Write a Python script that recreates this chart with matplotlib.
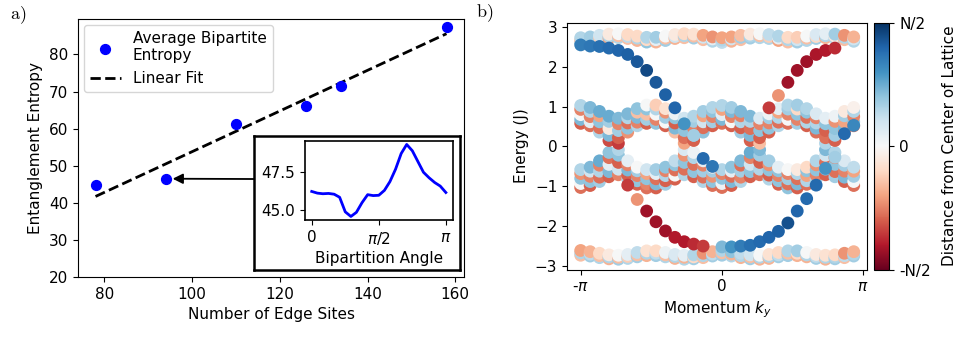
"""Edge-site entanglement entropy and ribbon band structure"""

import numpy as np
import matplotlib.pyplot as plt

# ---------------- panel a data ----------------
edge_sites = [78, 94, 110, 126, 134, 158]
avg_entropy = [44.7, 46.5, 61.3, 66.1, 71.6, 87.3]

# inset: entropy vs bipartition angle (in units of pi) for the 94-site system
angle_over_pi = [0, .042, .083, .125, .167, .208, .25, .292, .333, .375, .417, .458, .5,
                 .542, .583, .625, .667, .708, .75, .792, .833, .875, .917, .958, 1.0]
angle_entropy = [46.23, 46.12, 46.08, 46.10, 46.05, 45.85, 44.9, 44.6, 44.87, 45.5, 46.02,
                 45.96, 45.98, 46.3, 46.87, 47.68, 48.7, 49.29, 48.88, 48.17, 47.48, 47.12,
                 46.81, 46.58, 46.16]

# ---------------- panel b data ----------------
# momentum grid (units of pi)
k_over_pi = [-1.0, -.933, -.867, -.8, -.733, -.667, -.6, -.533, -.467, -.4, -.333, -.267, -.2,
             -.133, -.067, 0.0, .067, .133, .2, .267, .333, .4, .467, .533, .6, .667, .733,
             .8, .867, .933]

# bulk band layers (energy in J), one value per k
top_hi = [2.73, 2.75, 2.79, 2.82, 2.83, 2.81, 2.77, 2.74, 2.74, 2.77, 2.81, 2.83, 2.82, 2.79, 2.75,
          2.73, 2.75, 2.79, 2.82, 2.83, 2.81, 2.77, 2.74, 2.74, 2.77, 2.81, 2.83, 2.82, 2.79, 2.75]
top_mid = [2.67, 2.70, 2.74, 2.77, 2.78, 2.76, 2.72, 2.68, 2.68, 2.72, 2.76, 2.78, 2.77, 2.74, 2.70,
           2.67, 2.70, 2.74, 2.77, 2.78, 2.76, 2.72, 2.68, 2.68, 2.72, 2.76, 2.78, 2.77, 2.74, 2.70]
top_lo = [2.61, 2.64, 2.68, 2.72, 2.73, 2.71, 2.66, 2.62, 2.62, 2.66, 2.71, 2.73, 2.72, 2.68, 2.64,
          2.61, 2.64, 2.68, 2.72, 2.73, 2.71, 2.66, 2.62, 2.62, 2.66, 2.71, 2.73, 2.72, 2.68, 2.64]

mu_4 = [1.03, .98, .88, .76, .71, .82, .95, 1.04, 1.04, .95, .82, .71, .76, .88, .98,
        1.03, .98, .88, .76, .71, .82, .95, 1.04, 1.04, .95, .82, .71, .76, .88, .98]
mu_3 = [.93, .88, .77, .63, .57, .72, .86, .94, .94, .86, .72, .57, .63, .77, .88,
        .93, .88, .77, .63, .57, .72, .86, .94, .94, .86, .72, .57, .63, .77, .88]
mu_2 = [.80, .75, .62, .45, .40, .59, .73, .81, .81, .73, .59, .40, .45, .62, .75,
        .80, .75, .62, .45, .40, .59, .73, .81, .81, .73, .59, .40, .45, .62, .75]
mu_1 = [.68, .62, .47, .28, .22, .46, .61, .68, .68, .61, .46, .22, .28, .47, .62,
        .68, .62, .47, .28, .22, .46, .61, .68, .68, .61, .46, .22, .28, .47, .62]
mu_0 = [.58, .52, .36, .15, .08, .36, .52, .58, .58, .52, .36, .08, .15, .36, .52,
        .58, .52, .36, .15, .08, .36, .52, .58, .58, .52, .36, .08, .15, .36, .52]

md_4 = [-.58, -.52, -.36, -.15, -.08, -.36, -.52, -.58, -.58, -.52, -.36, -.08, -.15, -.36, -.52,
        -.58, -.52, -.36, -.15, -.08, -.36, -.52, -.58, -.58, -.52, -.36, -.08, -.15, -.36, -.52]
md_3 = [-.68, -.62, -.47, -.28, -.22, -.46, -.61, -.68, -.68, -.61, -.46, -.22, -.28, -.47, -.62,
        -.68, -.62, -.47, -.28, -.22, -.46, -.61, -.68, -.68, -.61, -.46, -.22, -.28, -.47, -.62]
md_2 = [-.80, -.75, -.62, -.45, -.40, -.59, -.73, -.81, -.81, -.73, -.59, -.40, -.45, -.62, -.75,
        -.80, -.75, -.62, -.45, -.40, -.59, -.73, -.81, -.81, -.73, -.59, -.40, -.45, -.62, -.75]
md_1 = [-.93, -.88, -.77, -.63, -.57, -.72, -.86, -.94, -.94, -.86, -.72, -.57, -.63, -.77, -.88,
        -.93, -.88, -.77, -.63, -.57, -.72, -.86, -.94, -.94, -.86, -.72, -.57, -.63, -.77, -.88]
md_0 = [-1.03, -.98, -.88, -.76, -.71, -.82, -.95, -1.04, -1.04, -.95, -.82, -.71, -.76, -.88, -.98,
        -1.03, -.98, -.88, -.76, -.71, -.82, -.95, -1.04, -1.04, -.95, -.82, -.71, -.76, -.88, -.98]

bot_hi = [-2.61, -2.64, -2.68, -2.72, -2.73, -2.71, -2.66, -2.62, -2.62, -2.66, -2.71, -2.73, -2.72, -2.68, -2.64,
          -2.61, -2.64, -2.68, -2.72, -2.73, -2.71, -2.66, -2.62, -2.62, -2.66, -2.71, -2.73, -2.72, -2.68, -2.64]
bot_mid = [-2.67, -2.70, -2.74, -2.77, -2.78, -2.76, -2.72, -2.68, -2.68, -2.72, -2.76, -2.78, -2.77, -2.74, -2.70,
           -2.67, -2.70, -2.74, -2.77, -2.78, -2.76, -2.72, -2.68, -2.68, -2.72, -2.76, -2.78, -2.77, -2.74, -2.70]
bot_lo = [-2.73, -2.75, -2.79, -2.82, -2.83, -2.81, -2.77, -2.74, -2.74, -2.77, -2.81, -2.83, -2.82, -2.79, -2.75,
          -2.73, -2.75, -2.79, -2.82, -2.83, -2.81, -2.77, -2.74, -2.74, -2.77, -2.81, -2.83, -2.82, -2.79, -2.75]

# distance from lattice centre for each layer (-1 = -N/2, 1 = N/2)
top_hi_c = [0.3, 0.35, 0.2, -0.1, 0.0, -0.2, -0.2, 0.3, 0.35, 0.0, -0.1, -0.2, -0.15, -0.4, -0.45,
            -0.4, -0.4, -0.3, -0.1, 0.0, 0.25, 0.3, -0.2, -0.25, 0.0, 0.15, 0.1, 0.35, -0.45, -0.35]
top_mid_c = [-0.3, 0.2, -0.25, 0.3, -0.3, 0.25, 0.3, -0.2, 0.1, -0.3, 0.2, 0.3, -0.3, 0.2, 0.1,
             0.3, 0.2, 0.35, 0.3, -0.3, -0.25, 0.1, 0.3, 0.2, -0.3, -0.2, 0.3, -0.1, 0.3, 0.2]
top_lo_c = [0.4, -0.35, 0.35, -0.4, 0.3, -0.3, -0.35, 0.4, -0.35, 0.35, -0.35, -0.3, 0.35, -0.3, 0.3,
            0.25, -0.35, -0.3, 0.35, 0.3, 0.3, -0.4, -0.3, 0.35, 0.3, 0.35, -0.35, 0.3, -0.3, 0.3]

mu_4_c = [0.3, 0.45, 0.5, 0.5, 0.45, 0.45, 0.4, 0.0, -0.25, -0.15, 0.05, 0.2, 0.3, 0.35, 0.3,
          0.3, 0.35, 0.45, 0.45, 0.15, 0.05, 0.1, 0.3, 0.35, 0.3, 0.15, 0.1, 0.05, -0.1, -0.05]
mu_3_c = [-0.5, 0.3, -0.4, 0.35, -0.5, 0.3, -0.3, 0.4, 0.3, -0.45, 0.4, -0.5, 0.35, -0.4, 0.4,
          -0.4, 0.45, -0.5, 0.3, -0.5, 0.35, -0.4, 0.35, -0.2, 0.4, -0.5, 0.4, -0.45, 0.35, 0.3]
mu_2_c = [0.0, -0.5, 0.4, -0.1, 0.35, -0.55, 0.45, -0.3, 0.0, 0.35, -0.6, 0.4, -0.5, 0.2, -0.5,
          0.1, -0.5, 0.3, -0.55, 0.4, -0.5, 0.3, -0.5, 0.4, -0.55, 0.3, -0.6, 0.4, -0.4, -0.5]
mu_1_c = [0.45, 0.1, -0.55, 0.45, -0.6, 0.4, -0.5, 0.35, -0.5, 0.0, 0.45, -0.55, 0.4, -0.55, 0.35,
          0.45, 0.0, -0.6, 0.45, -0.6, 0.4, -0.55, 0.0, -0.5, 0.3, 0.45, -0.55, 0.35, 0.45, 0.4]
mu_0_c = [-0.6, -0.55, 0.3, -0.65, -0.7, -0.45, 0.3, -0.6, 0.4, -0.6, -0.3, -0.4, -0.6, 0.4, -0.6,
          -0.55, -0.6, 0.35, -0.6, -0.3, -0.6, 0.3, -0.55, 0.35, -0.6, -0.55, 0.3, -0.6, -0.5, -0.55]

md_4_c = [0.3, 0.45, 0.5, 0.4, 0.3, 0.1, 0.0, 0.2, 0.35, 0.4, 0.25, 0.15, 0.05, 0.1, -0.05,
          0.3, 0.4, 0.45, 0.5, 0.45, 0.35, 0.1, 0.0, -0.1, -0.2, 0.3, 0.45, 0.3, 0.15, 0.25]
md_3_c = [-0.45, 0.2, -0.5, -0.55, 0.4, -0.5, 0.35, -0.4, 0.1, -0.5, 0.4, -0.45, 0.3, -0.5, 0.35,
          -0.5, 0.1, -0.55, -0.5, 0.35, -0.45, 0.4, -0.5, 0.3, 0.4, -0.45, 0.2, -0.5, 0.35, -0.4]
md_2_c = [0.4, -0.5, 0.3, 0.1, -0.6, 0.45, -0.5, 0.4, -0.55, 0.3, -0.55, 0.4, -0.55, 0.35, -0.45,
          0.4, -0.55, 0.35, 0.2, -0.6, 0.4, -0.5, 0.35, -0.55, -0.4, 0.4, -0.55, 0.4, -0.5, 0.35]
md_1_c = [0.0, 0.4, -0.55, 0.45, 0.2, -0.6, 0.4, -0.5, 0.45, -0.6, 0.0, -0.55, 0.4, -0.55, 0.4,
          0.05, 0.45, -0.5, 0.4, 0.3, -0.6, 0.4, -0.55, 0.45, 0.3, -0.5, 0.45, -0.55, 0.45, 0.0]
md_0_c = [-0.55, -0.6, 0.35, -0.6, -0.5, 0.3, -0.6, -0.55, -0.6, 0.35, -0.6, 0.3, -0.6, 0.3, -0.55,
          -0.55, -0.6, 0.3, -0.6, -0.55, 0.3, -0.6, 0.4, -0.6, -0.55, 0.3, -0.6, 0.35, -0.6, -0.55]

bot_hi_c = [-0.4, -0.35, -0.2, -0.1, 0.0, 0.1, 0.25, -0.15, -0.2, 0.05, 0.15, 0.1, 0.3, -0.45, -0.35,
            0.3, 0.4, 0.25, 0.2, 0.0, -0.15, -0.2, 0.3, 0.35, 0.0, -0.1, -0.15, -0.2, -0.45, -0.35]
bot_mid_c = [0.3, 0.25, -0.3, 0.3, -0.3, -0.25, -0.3, 0.3, 0.25, -0.3, 0.3, -0.35, -0.2, 0.3, 0.25,
             -0.3, -0.35, 0.3, -0.3, 0.3, 0.3, 0.25, -0.3, -0.2, 0.3, 0.25, 0.3, 0.3, 0.25, 0.3]
bot_lo_c = [-0.3, 0.35, 0.3, -0.35, 0.35, 0.3, 0.35, -0.35, 0.35, 0.3, -0.35, 0.3, 0.35, -0.3, 0.35,
            0.35, 0.3, -0.35, 0.35, -0.35, -0.35, 0.35, 0.35, -0.35, -0.35, 0.35, -0.35, 0.35, -0.3, 0.35]

# edge states: k-index range, energy, position
blue_upper_idx = (0, 15)
blue_upper_E = [2.55, 2.52, 2.51, 2.47, 2.41, 2.31, 2.13, 1.91, 1.61, 1.30, 0.97, 0.57, 0.28, -0.30, -0.50]
blue_upper_c = [0.7, 0.72, 0.75, 0.78, 0.8, 0.82, 0.85, 0.9, 0.85, 0.82, 0.8, 0.6, 0.35, 0.78, 0.72]
blue_lower_idx = (15, 30)
blue_lower_E = [-2.52, -2.52, -2.50, -2.48, -2.39, -2.28, -2.13, -1.92, -1.62, -1.31, -0.97, -0.55, -0.27, 0.32, 0.53]
blue_lower_c = [0.45, 0.6, 0.7, 0.75, 0.78, 0.8, 0.82, 0.88, 0.8, 0.78, 0.78, 0.6, 0.35, 0.78, 0.65]
red_lower_idx = (5, 14)
red_lower_E = [-0.97, -1.33, -1.62, -1.89, -2.12, -2.28, -2.39, -2.45, -2.50]
red_lower_c = [-0.7, -0.45, -0.85, -0.85, -0.85, -0.8, -0.8, -0.75, -0.7]
red_upper_idx = (20, 28)
red_upper_E = [0.97, 1.28, 1.61, 1.91, 2.13, 2.31, 2.41, 2.47]
red_upper_c = [-0.7, -0.45, -0.85, -0.85, -0.85, -0.82, -0.8, -0.75]


plt.rcParams['font.size'] = 11
fig = plt.figure(figsize=(9.58, 3.37), dpi=100)

# ---------------- panel a ----------------
ax_a = fig.add_axes([0.0814, 0.178, 0.403, 0.766])
ax_a.scatter(edge_sites, avg_entropy, s=50, color='blue', label='Average Bipartite\nEntropy', zorder=3)
slope, icpt = np.polyfit(edge_sites, avg_entropy, 1)
fit_x = np.array([edge_sites[0], edge_sites[-1]])
ax_a.plot(fit_x, slope * fit_x + icpt, 'k--', lw=2, label='Linear Fit')
ax_a.set_ylim(bottom=20)
ax_a.set_xlabel('Number of Edge Sites')
ax_a.set_ylabel('Entanglement Entropy')
ax_a.legend(loc='upper left', fontsize=11, borderaxespad=0.4)

# framed box holding the inset
frame = fig.add_axes([0.265, 0.199, 0.215, 0.398])
frame.set_xticks([])
frame.set_yticks([])
for sp in frame.spines.values():
    sp.set_linewidth(1.8)

ins = fig.add_axes([0.3184, 0.347, 0.154, 0.235])
ins.plot(np.array(angle_over_pi) * np.pi, angle_entropy, color='blue', lw=2)
ins.set_xticks([0, np.pi / 2, np.pi])
ins.set_xticklabels(['0', r'$\pi/2$', r'$\pi$'])
ins.set_yticks([45.0, 47.5])
ins.set_yticklabels(['45.0', '47.5'])
ins.set_xlabel('Bipartition Angle', labelpad=3)
for sp in ins.spines.values():
    sp.set_linewidth(1.2)

ax_a.annotate('', xy=(edge_sites[1], avg_entropy[1]), xycoords='data',
              xytext=(0.2651, 0.4688), textcoords='figure fraction',
              arrowprops=dict(arrowstyle='-|>', color='k', lw=1.3,
                              shrinkA=0, shrinkB=5, mutation_scale=15))

# ---------------- panel b ----------------
ax_b = fig.add_axes([0.5919, 0.2, 0.3135, 0.733])

layers_E = [bot_lo, bot_mid, bot_hi, md_0, md_1, md_2, md_3, md_4,
            mu_0, mu_1, mu_2, mu_3, mu_4, top_lo, top_mid, top_hi]
layers_c = [bot_lo_c, bot_mid_c, bot_hi_c, md_0_c, md_1_c, md_2_c, md_3_c, md_4_c,
            mu_0_c, mu_1_c, mu_2_c, mu_3_c, mu_4_c, top_lo_c, top_mid_c, top_hi_c]
kk = np.tile(np.array(k_over_pi) * np.pi, len(layers_E))
ee = np.concatenate(layers_E)
cc = np.concatenate(layers_c)
order = np.lexsort((ee, kk))    # draw k by k, low energy first
sc = ax_b.scatter(kk[order], ee[order], c=cc[order], cmap='RdBu', vmin=-1, vmax=1,
                  s=85, linewidths=0)

k_arr = np.array(k_over_pi) * np.pi
for (i0, i1), E, c in [(blue_upper_idx, blue_upper_E, blue_upper_c),
                       (blue_lower_idx, blue_lower_E, blue_lower_c),
                       (red_lower_idx, red_lower_E, red_lower_c),
                       (red_upper_idx, red_upper_E, red_upper_c)]:
    ax_b.scatter(k_arr[i0:i1], E, c=c, cmap='RdBu', vmin=-1, vmax=1, s=85, linewidths=0)

ax_b.set_ylim(-3.09, 3.11)
ax_b.set_yticks([-3, -2, -1, 0, 1, 2, 3])
ax_b.set_xticks([-np.pi, 0, np.pi])
ax_b.set_xticklabels([r'-$\pi$', '0', r'$\pi$'])
ax_b.set_xlabel(r'Momentum $k_y$')
ax_b.set_ylabel('Energy (J)')

cax = fig.add_axes([0.9123, 0.2, 0.016, 0.733])
cb = fig.colorbar(sc, cax=cax, ticks=[-1, 0, 1])
cb.ax.set_yticklabels(['-N/2', '0', 'N/2'])
cb.set_label('Distance from Center of Lattice', labelpad=8)

fig.text(0.010, 0.955, r'$\mathrm{a)}$', fontsize=13, math_fontfamily='cm', va='center')
fig.text(0.497, 0.96, r'$\mathrm{b)}$', fontsize=13, math_fontfamily='cm', va='center')

fig.savefig('out.png', dpi=100)
